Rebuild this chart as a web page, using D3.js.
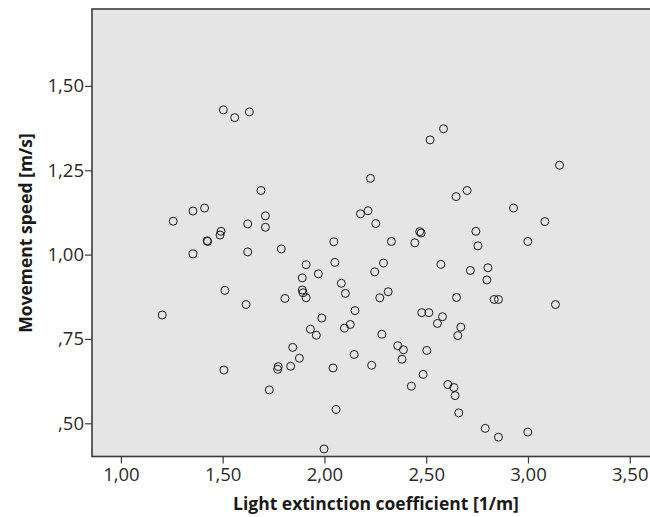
<!DOCTYPE html>
<html>
<head>
<meta charset="utf-8">
<script src="https://cdn.jsdelivr.net/npm/d3@7"></script>
<style>
  body { margin: 0; background: #fff; }
  svg { display: block; font-family: "Open Sans", "Noto Sans", sans-serif; }
</style>
</head>
<body>
<svg id="chart" width="650" height="517"></svg>
<script>
// light extinction coefficient [1/m]
var extinction = [1.257, 1.354, 1.411, 1.426, 1.424, 1.492, 1.487, 1.354, 1.203, 1.503,
    1.559, 1.631, 1.688, 1.623, 1.710, 1.710, 1.623, 1.788, 1.910, 1.891,
    1.970, 1.891, 1.895, 1.910, 1.806, 1.511, 1.615, 1.987, 1.931, 1.960,
    1.844, 1.877, 1.834, 1.773, 1.770, 1.506, 1.729, 1.998, 2.051, 2.290,
    2.572, 2.247, 2.717, 2.803, 2.798, 2.083, 2.103, 2.313, 2.272, 2.649,
    2.834, 2.855, 2.478, 2.513, 2.580, 2.555, 2.150, 2.670, 2.655, 2.127,
    2.098, 2.282, 2.360, 2.388, 2.381, 2.503, 2.146, 2.042, 2.232, 2.485,
    2.427, 2.606, 2.636, 2.642, 2.660, 2.057, 2.790, 2.855, 2.585, 2.519,
    2.226, 2.647, 2.701, 2.177, 2.214, 2.252, 2.744, 2.754, 2.468, 2.475,
    2.329, 2.444, 2.046, 3.155, 2.929, 3.083, 2.999, 3.135, 2.999];

// movement speed [m/s]
var speed = [1.099, 1.129, 1.138, 1.039, 1.041, 1.069, 1.058, 1.002, 0.821, 1.429,
    1.406, 1.423, 1.190, 1.091, 1.115, 1.081, 1.008, 1.017, 0.970, 0.931,
    0.943, 0.895, 0.887, 0.872, 0.870, 0.894, 0.852, 0.812, 0.779, 0.761,
    0.725, 0.693, 0.669, 0.668, 0.660, 0.658, 0.599, 0.424, 0.977, 0.975,
    0.971, 0.949, 0.953, 0.961, 0.925, 0.915, 0.885, 0.890, 0.872, 0.873,
    0.867, 0.867, 0.828, 0.828, 0.816, 0.796, 0.834, 0.785, 0.760, 0.793,
    0.782, 0.764, 0.730, 0.718, 0.690, 0.716, 0.704, 0.664, 0.672, 0.645,
    0.610, 0.615, 0.606, 0.582, 0.531, 0.541, 0.485, 0.459, 1.373, 1.340,
    1.226, 1.172, 1.190, 1.121, 1.130, 1.092, 1.069, 1.026, 1.068, 1.064,
    1.039, 1.035, 1.038, 1.265, 1.138, 1.098, 1.039, 0.852, 0.474];

var xTicks = [1.00, 1.50, 2.00, 2.50, 3.00, 3.50];
var yTicks = [0.50, 0.75, 1.00, 1.25, 1.50];

var svg = d3.select("#chart");

var plotLeft = 92, plotRight = 655, plotTop = 9, plotBottom = 456.5;

var x = d3.scaleLinear()
    .domain([0.858, 3.624])
    .range([plotLeft, plotRight]);

var y = d3.scaleLinear()
    .domain([0.4016, 1.728])
    .range([plotBottom, plotTop]);

// SPSS style numbers: decimal comma, no leading zero below 1
var fmt = function(d) {
    var s = d3.format(".2f")(d).replace(".", ",");
    if (s.indexOf("0,") === 0) s = s.slice(1);
    return s;
};

var data = extinction.map(function(d, i) { return { x: d, y: speed[i] }; });

// plot background
svg.append("rect")
    .attr("x", plotLeft)
    .attr("y", plotTop)
    .attr("width", plotRight - plotLeft)
    .attr("height", plotBottom - plotTop)
    .attr("fill", "#e5e5e5");

// points
svg.append("g")
    .selectAll("circle")
    .data(data)
    .enter()
    .append("circle")
    .attr("cx", function(d) { return x(d.x); })
    .attr("cy", function(d) { return y(d.y); })
    .attr("r", 4)
    .attr("fill", "none")
    .attr("stroke", "#1a1a1a")
    .attr("stroke-width", 1);

// frame
svg.append("rect")
    .attr("x", plotLeft)
    .attr("y", plotTop)
    .attr("width", plotRight - plotLeft)
    .attr("height", plotBottom - plotTop)
    .attr("fill", "none")
    .attr("stroke", "#3c3c3c")
    .attr("stroke-width", 1.6);

var xAxis = svg.append("g")
    .attr("transform", "translate(0," + plotBottom + ")")
    .call(d3.axisBottom(x).tickValues(xTicks).tickFormat(fmt).tickSize(7).tickPadding(4));

var yAxis = svg.append("g")
    .attr("transform", "translate(" + plotLeft + ",0)")
    .call(d3.axisLeft(y).tickValues(yTicks).tickFormat(fmt).tickSize(7).tickPadding(1));

[xAxis, yAxis].forEach(function(g) {
    g.select(".domain").remove();
    g.selectAll(".tick line").attr("stroke", "#3c3c3c").attr("stroke-width", 1.2);
    g.selectAll(".tick text")
        .attr("fill", "#2a2a2a")
        .style("font-size", "18.5px")
        .style("font-family", "'Open Sans', 'Noto Sans', sans-serif");
});

// axis titles
svg.append("text")
    .attr("x", 376)
    .attr("y", 510)
    .attr("text-anchor", "middle")
    .style("font-size", "17.5px")
    .style("font-weight", "bold")
    .attr("fill", "#1a1a1a")
    .text("Light extinction coefficient [1/m]");

svg.append("text")
    .attr("transform", "translate(32,233)rotate(-90)")
    .attr("text-anchor", "middle")
    .style("font-size", "17.5px")
    .style("font-weight", "bold")
    .attr("fill", "#1a1a1a")
    .text("Movement speed [m/s]");
</script>
</body>
</html>
